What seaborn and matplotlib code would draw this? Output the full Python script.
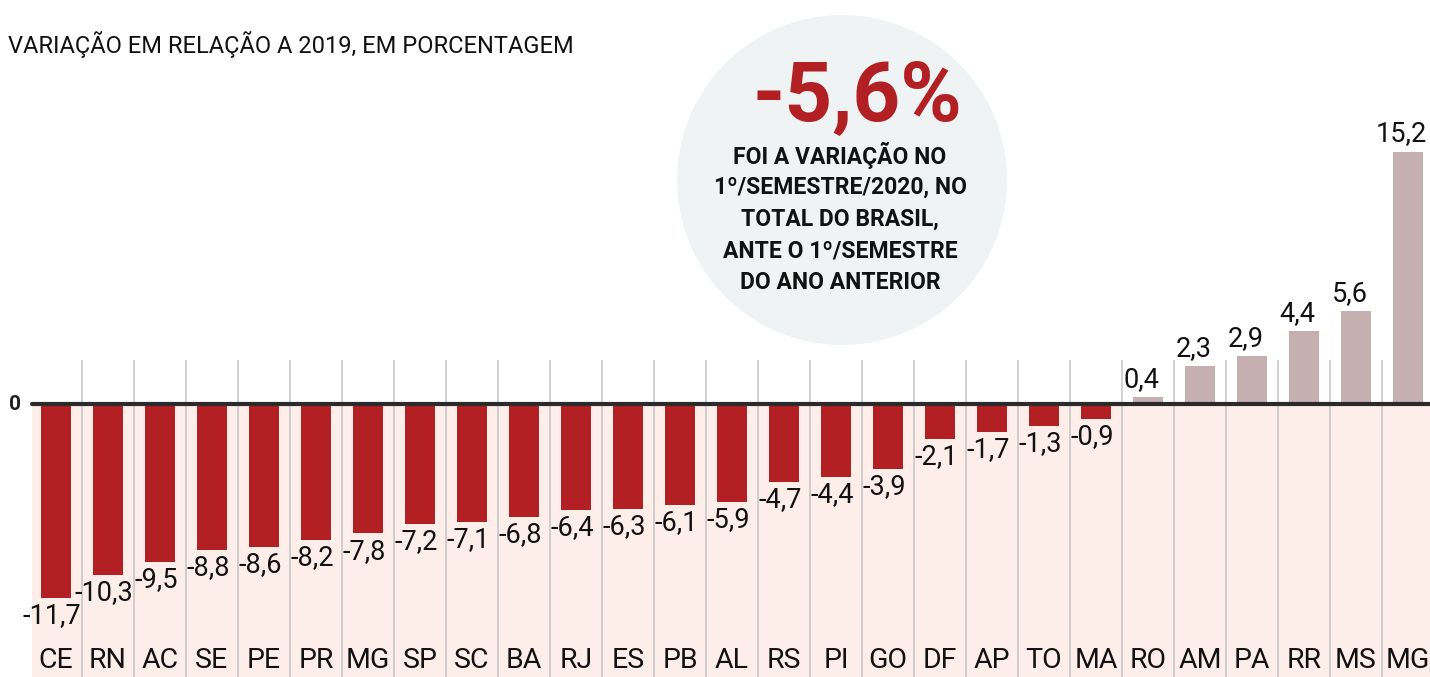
import pandas as pd
import matplotlib.pyplot as plt
import seaborn as sns
from matplotlib.patches import Ellipse

# Variação em relação a 2019 por estado (%)
estados = ["CE", "RN", "AC", "SE", "PE", "PR", "MG", "SP", "SC", "BA", "RJ", "ES", "PB", "AL",
           "RS", "PI", "GO", "DF", "AP", "TO", "MA", "RO", "AM", "PA", "RR", "MS", "MG"]
variacao = [-11.7, -10.3, -9.5, -8.8, -8.6, -8.2, -7.8, -7.2, -7.1, -6.8, -6.4, -6.3, -6.1, -5.9,
            -4.7, -4.4, -3.9, -2.1, -1.7, -1.3, -0.9, 0.4, 2.3, 2.9, 4.4, 5.6, 15.2]
total_brasil = "-5,6%"
texto_circulo = ["FOI A VARIAÇÃO NO", "1º/SEMESTRE/2020, NO", "TOTAL DO BRASIL,",
                 "ANTE O 1º/SEMESTRE", "DO ANO ANTERIOR"]

VERMELHO = "#B22024"
ROSA_ESCURO = "#C5AFB1"

df = pd.DataFrame({"pos": range(len(estados)), "estado": estados, "valor": variacao})
df["sinal"] = ["neg" if v < 0 else "pos" for v in df["valor"]]

sns.set_style("white")
plt.rcParams["font.family"] = ["Roboto", "DejaVu Sans"]

W, H = 1430, 677
fig = plt.figure(figsize=(W / 100, H / 100), dpi=100)
ax = fig.add_axes([0, 0, 1, 1])

# escala: zero em y=404 px, ~16.6 px por ponto percentual
ppu = 16.6
y0 = 404
ymin, ymax = -(H - y0) / ppu, y0 / ppu
xmin, xmax = -56 / 52, (W - 56) / 52

# fundo rosa da área negativa e linhas separadoras
ax.axhspan(ymin, 0, xmin=32 / W, xmax=1, color="#FDEEEA", zorder=0, lw=0)
ax.vlines([i + 0.5 for i in range(len(estados) - 1)], ymin, 44 / ppu,
          color="#C9C9C9", lw=1.2, zorder=1)

# círculo de destaque
ax.add_patch(Ellipse((842 / W, 1 - 180 / H), 330 / W, 330 / H, transform=ax.transAxes,
                     color="#EFF3F4", lw=0, zorder=0))

sns.barplot(data=df, x="pos", y="valor", hue="sinal",
            palette={"neg": VERMELHO, "pos": ROSA_ESCURO}, saturation=1,
            dodge=False, width=0.58, linewidth=0, legend=False, ax=ax, zorder=2)

ax.axhline(0, xmin=32 / W, xmax=1, color="#2b2b2b", lw=3, zorder=3)

for i, v in enumerate(variacao):
    rotulo = f"{v:.1f}".replace(".", ",")
    if v < 0:
        ax.text(i - 0.08, v - 0.25, rotulo, ha="center", va="top", fontsize=19.5, color="#111111")
    else:
        ax.text(i - 0.12, v + 0.25, rotulo, ha="center", va="bottom", fontsize=19.5,
                color="#111111")
    ax.text(i, (y0 - 660) / ppu, estados[i], ha="center", va="center", fontsize=20.5,
            color="#111111")

ax.text(-0.78, 0, "0", ha="center", va="center", fontsize=15, fontweight="bold", color="#222222")

ax.set_xlim(xmin, xmax)
ax.set_ylim(ymin, ymax)
ax.axis("off")

fig.text(8 / W, 1 - 45 / H, "VARIAÇÃO EM RELAÇÃO A 2019, EM PORCENTAGEM", ha="left",
         va="center", fontsize=17, color="#111111")
fig.text(857 / W, 1 - 99 / H, total_brasil, ha="center", va="center", fontsize=60,
         fontweight="bold", color=VERMELHO)
for k, linha in enumerate(texto_circulo):
    fig.text(840 / W, 1 - (155 + 32 * k) / H, linha, ha="center", va="center", fontsize=16.5,
             fontweight="bold", color="#111111")

fig.savefig("out.png", dpi=100)
